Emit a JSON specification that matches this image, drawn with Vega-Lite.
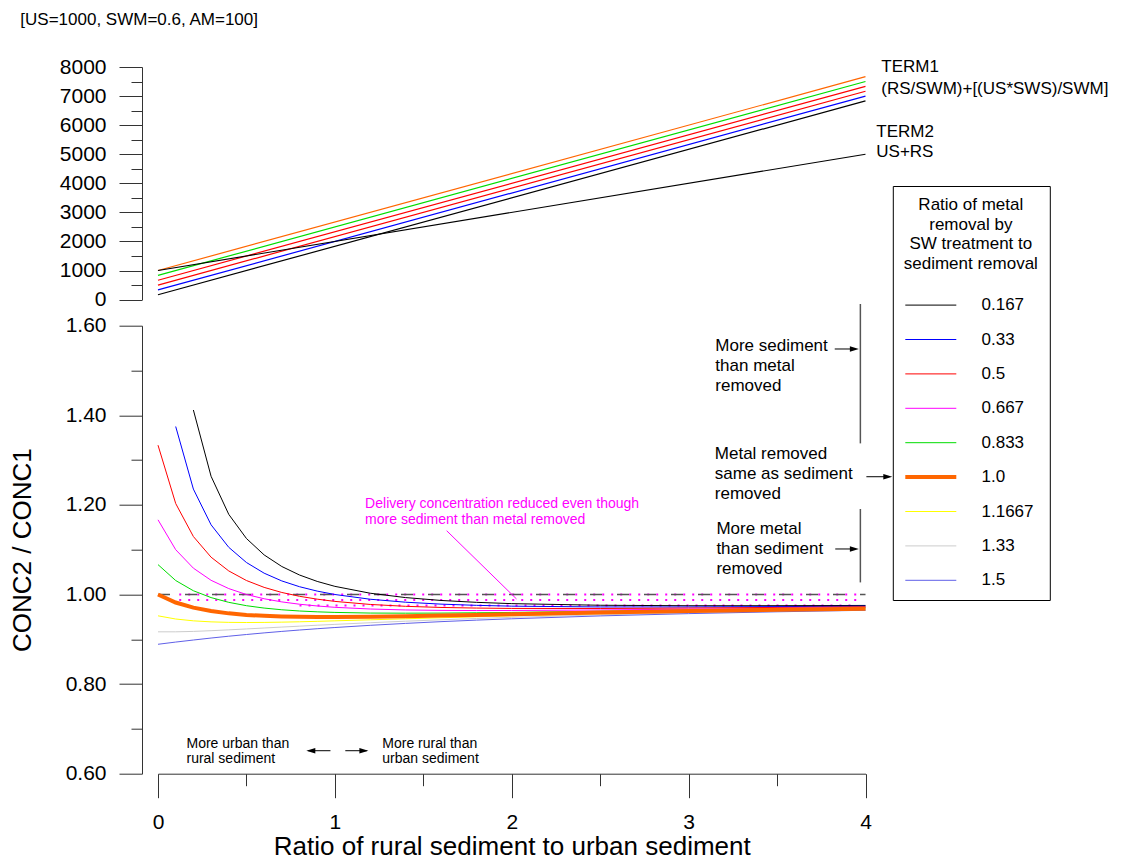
{
  "$schema": "https://vega.github.io/schema/vega-lite/v6.json",
  "background": "white",
  "padding": {"left": 9, "top": 11, "right": 5, "bottom": 0},
  "bounds": "flush",
  "spacing": 25.7,
  "config": {
    "font": "Liberation Sans",
    "view": {"stroke": null},
    "axis": {"grid": false, "domainColor": "#333333", "tickColor": "#333333", "labelColor": "#000000", "titleColor": "#000000", "labelFontSize": 21, "labelFont": "Liberation Sans", "titleFont": "Liberation Sans", "titleFontWeight": "normal", "titleFontSize": 26, "labelOverlap": false, "labelFlush": false, "domainWidth": 1, "tickWidth": 1},
    "legend": {"padding": 11, "strokeColor": "#000000", "fillColor": "#ffffff", "symbolType": "stroke", "symbolSize": 2601, "symbolStrokeWidth": 1, "symbolOffset": -4, "rowPadding": 0.4, "labelOffset": 24.7, "labelFontSize": 17, "labelFont": "Liberation Sans", "labelColor": "#000000", "titleFont": "Liberation Sans", "titleFontSize": 17, "titleFontWeight": "normal", "titleColor": "#000000", "titleAlign": "center", "titleAnchor": "middle", "titleLineHeight": 19.7, "titlePadding": 6, "titleLimit": 300, "labelLimit": 200}
  },
  "datasets": {
    "term1": [
      {"r": "0.167", "x": 0, "v": 166.7}, {"r": "0.167", "x": 4, "v": 6833.3},
      {"r": "0.33", "x": 0, "v": 333.3}, {"r": "0.33", "x": 4, "v": 7000},
      {"r": "0.5", "x": 0, "v": 500}, {"r": "0.5", "x": 4, "v": 7166.7},
      {"r": "0.667", "x": 0, "v": 666.7}, {"r": "0.667", "x": 4, "v": 7333.3},
      {"r": "0.833", "x": 0, "v": 833.3}, {"r": "0.833", "x": 4, "v": 7500},
      {"r": "1.0", "x": 0, "v": 1000}, {"r": "1.0", "x": 4, "v": 7666.7}
    ],
    "term2": [{"x": 0, "v": 1000}, {"x": 4, "v": 5000}],
    "topText": [
      {"x": -0.7785, "v": 9606, "t": "[US=1000, SWM=0.6, AM=100]"},
      {"x": 4.089, "v": 8010, "t": "TERM1"},
      {"x": 4.089, "v": 7257, "t": "(RS/SWM)+[(US*SWS)/SWM]"},
      {"x": 4.061, "v": 5765, "t": "TERM2"},
      {"x": 4.061, "v": 5077, "t": "US+RS"}
    ],
    "curves": [
      {"r": "0.167", "x": 0.2, "v": 1.4118}, {"r": "0.167", "x": 0.3, "v": 1.2639}, {"r": "0.167", "x": 0.4, "v": 1.1789}, {"r": "0.167", "x": 0.5, "v": 1.125}, {"r": "0.167", "x": 0.6, "v": 1.0884}, {"r": "0.167", "x": 0.7, "v": 1.0625}, {"r": "0.167", "x": 0.8, "v": 1.0435}, {"r": "0.167", "x": 0.9, "v": 1.0292}, {"r": "0.167", "x": 1.0, "v": 1.0182}, {"r": "0.167", "x": 1.2, "v": 1.0028}, {"r": "0.167", "x": 1.4, "v": 0.9931}, {"r": "0.167", "x": 1.6, "v": 0.9867}, {"r": "0.167", "x": 1.8, "v": 0.9825}, {"r": "0.167", "x": 2.0, "v": 0.9796}, {"r": "0.167", "x": 2.5, "v": 0.976}, {"r": "0.167", "x": 3.0, "v": 0.9749}, {"r": "0.167", "x": 3.5, "v": 0.975}, {"r": "0.167", "x": 4.0, "v": 0.9756},
      {"r": "0.33", "x": 0.1, "v": 1.375}, {"r": "0.33", "x": 0.2, "v": 1.2353}, {"r": "0.33", "x": 0.3, "v": 1.1556}, {"r": "0.33", "x": 0.4, "v": 1.1053}, {"r": "0.33", "x": 0.5, "v": 1.0714}, {"r": "0.33", "x": 0.6, "v": 1.0476}, {"r": "0.33", "x": 0.7, "v": 1.0303}, {"r": "0.33", "x": 0.8, "v": 1.0174}, {"r": "0.33", "x": 0.9, "v": 1.0076}, {"r": "0.33", "x": 1.0, "v": 1.0}, {"r": "0.33", "x": 1.2, "v": 0.9894}, {"r": "0.33", "x": 1.4, "v": 0.9828}, {"r": "0.33", "x": 1.6, "v": 0.9785}, {"r": "0.33", "x": 1.8, "v": 0.9758}, {"r": "0.33", "x": 2.0, "v": 0.974}, {"r": "0.33", "x": 2.5, "v": 0.9722}, {"r": "0.33", "x": 3.0, "v": 0.9722}, {"r": "0.33", "x": 3.5, "v": 0.973}, {"r": "0.33", "x": 4.0, "v": 0.974},
      {"r": "0.5", "x": 0, "v": 1.3333}, {"r": "0.5", "x": 0.1, "v": 1.2031}, {"r": "0.5", "x": 0.2, "v": 1.1294}, {"r": "0.5", "x": 0.3, "v": 1.0833}, {"r": "0.5", "x": 0.4, "v": 1.0526}, {"r": "0.5", "x": 0.5, "v": 1.0312}, {"r": "0.5", "x": 0.6, "v": 1.0159}, {"r": "0.5", "x": 0.7, "v": 1.0045}, {"r": "0.5", "x": 0.8, "v": 0.996}, {"r": "0.5", "x": 0.9, "v": 0.9896}, {"r": "0.5", "x": 1.0, "v": 0.9846}, {"r": "0.5", "x": 1.2, "v": 0.9778}, {"r": "0.5", "x": 1.4, "v": 0.9736}, {"r": "0.5", "x": 1.6, "v": 0.9711}, {"r": "0.5", "x": 1.8, "v": 0.9697}, {"r": "0.5", "x": 2.0, "v": 0.9689}, {"r": "0.5", "x": 2.5, "v": 0.9688}, {"r": "0.5", "x": 3.0, "v": 0.9697}, {"r": "0.5", "x": 3.5, "v": 0.9711}, {"r": "0.5", "x": 4.0, "v": 0.9725},
      {"r": "0.667", "x": 0, "v": 1.1667}, {"r": "0.667", "x": 0.1, "v": 1.1}, {"r": "0.667", "x": 0.2, "v": 1.0588}, {"r": "0.667", "x": 0.3, "v": 1.0317}, {"r": "0.667", "x": 0.4, "v": 1.0132}, {"r": "0.667", "x": 0.5, "v": 1.0}, {"r": "0.667", "x": 0.6, "v": 0.9905}, {"r": "0.667", "x": 0.7, "v": 0.9835}, {"r": "0.667", "x": 0.8, "v": 0.9783}, {"r": "0.667", "x": 0.9, "v": 0.9744}, {"r": "0.667", "x": 1.0, "v": 0.9714}, {"r": "0.667", "x": 1.2, "v": 0.9676}, {"r": "0.667", "x": 1.4, "v": 0.9655}, {"r": "0.667", "x": 1.6, "v": 0.9645}, {"r": "0.667", "x": 1.8, "v": 0.9642}, {"r": "0.667", "x": 2.0, "v": 0.9643}, {"r": "0.667", "x": 2.5, "v": 0.9655}, {"r": "0.667", "x": 3.0, "v": 0.9673}, {"r": "0.667", "x": 3.5, "v": 0.9692}, {"r": "0.667", "x": 4.0, "v": 0.9711},
      {"r": "0.833", "x": 0, "v": 1.0667}, {"r": "0.833", "x": 0.1, "v": 1.0312}, {"r": "0.833", "x": 0.2, "v": 1.0084}, {"r": "0.833", "x": 0.3, "v": 0.9931}, {"r": "0.833", "x": 0.4, "v": 0.9825}, {"r": "0.833", "x": 0.5, "v": 0.975}, {"r": "0.833", "x": 0.6, "v": 0.9697}, {"r": "0.833", "x": 0.7, "v": 0.9659}, {"r": "0.833", "x": 0.8, "v": 0.9632}, {"r": "0.833", "x": 0.9, "v": 0.9613}, {"r": "0.833", "x": 1.0, "v": 0.96}, {"r": "0.833", "x": 1.2, "v": 0.9586}, {"r": "0.833", "x": 1.4, "v": 0.9583}, {"r": "0.833", "x": 1.6, "v": 0.9585}, {"r": "0.833", "x": 1.8, "v": 0.9592}, {"r": "0.833", "x": 2.0, "v": 0.96}, {"r": "0.833", "x": 2.5, "v": 0.9625}, {"r": "0.833", "x": 3.0, "v": 0.9651}, {"r": "0.833", "x": 3.5, "v": 0.9675}, {"r": "0.833", "x": 4.0, "v": 0.9697},
      {"r": "1.1667", "x": 0, "v": 0.9524}, {"r": "1.1667", "x": 0.1, "v": 0.9453}, {"r": "1.1667", "x": 0.2, "v": 0.9412}, {"r": "1.1667", "x": 0.3, "v": 0.9389}, {"r": "1.1667", "x": 0.4, "v": 0.9378}, {"r": "1.1667", "x": 0.5, "v": 0.9375}, {"r": "1.1667", "x": 0.6, "v": 0.9377}, {"r": "1.1667", "x": 0.7, "v": 0.9383}, {"r": "1.1667", "x": 0.8, "v": 0.9391}, {"r": "1.1667", "x": 0.9, "v": 0.9401}, {"r": "1.1667", "x": 1.0, "v": 0.9412}, {"r": "1.1667", "x": 1.2, "v": 0.9435}, {"r": "1.1667", "x": 1.4, "v": 0.9458}, {"r": "1.1667", "x": 1.6, "v": 0.9481}, {"r": "1.1667", "x": 1.8, "v": 0.9503}, {"r": "1.1667", "x": 2.0, "v": 0.9524}, {"r": "1.1667", "x": 2.5, "v": 0.957}, {"r": "1.1667", "x": 3.0, "v": 0.961}, {"r": "1.1667", "x": 3.5, "v": 0.9643}, {"r": "1.1667", "x": 4.0, "v": 0.9671},
      {"r": "1.33", "x": 0, "v": 0.9167}, {"r": "1.33", "x": 0.1, "v": 0.9167}, {"r": "1.33", "x": 0.2, "v": 0.9176}, {"r": "1.33", "x": 0.3, "v": 0.9192}, {"r": "1.33", "x": 0.4, "v": 0.9211}, {"r": "1.33", "x": 0.5, "v": 0.9231}, {"r": "1.33", "x": 0.6, "v": 0.9252}, {"r": "1.33", "x": 0.7, "v": 0.9273}, {"r": "1.33", "x": 0.8, "v": 0.9293}, {"r": "1.33", "x": 0.9, "v": 0.9314}, {"r": "1.33", "x": 1.0, "v": 0.9333}, {"r": "1.33", "x": 1.2, "v": 0.937}, {"r": "1.33", "x": 1.4, "v": 0.9404}, {"r": "1.33", "x": 1.6, "v": 0.9435}, {"r": "1.33", "x": 1.8, "v": 0.9464}, {"r": "1.33", "x": 2.0, "v": 0.949}, {"r": "1.33", "x": 2.5, "v": 0.9545}, {"r": "1.33", "x": 3.0, "v": 0.9591}, {"r": "1.33", "x": 3.5, "v": 0.9628}, {"r": "1.33", "x": 4.0, "v": 0.9659},
      {"r": "1.5", "x": 0, "v": 0.8889}, {"r": "1.5", "x": 0.1, "v": 0.8938}, {"r": "1.5", "x": 0.2, "v": 0.8984}, {"r": "1.5", "x": 0.3, "v": 0.9028}, {"r": "1.5", "x": 0.4, "v": 0.9069}, {"r": "1.5", "x": 0.5, "v": 0.9107}, {"r": "1.5", "x": 0.6, "v": 0.9143}, {"r": "1.5", "x": 0.7, "v": 0.9176}, {"r": "1.5", "x": 0.8, "v": 0.9207}, {"r": "1.5", "x": 0.9, "v": 0.9236}, {"r": "1.5", "x": 1.0, "v": 0.9263}, {"r": "1.5", "x": 1.2, "v": 0.9312}, {"r": "1.5", "x": 1.4, "v": 0.9355}, {"r": "1.5", "x": 1.6, "v": 0.9394}, {"r": "1.5", "x": 1.8, "v": 0.9428}, {"r": "1.5", "x": 2.0, "v": 0.9458}, {"r": "1.5", "x": 2.5, "v": 0.9522}, {"r": "1.5", "x": 3.0, "v": 0.9573}, {"r": "1.5", "x": 3.5, "v": 0.9614}, {"r": "1.5", "x": 4.0, "v": 0.9648},
      {"r": "1.0", "x": 0, "v": 1.0}, {"r": "1.0", "x": 0.1, "v": 0.9821}, {"r": "1.0", "x": 0.2, "v": 0.9706}, {"r": "1.0", "x": 0.3, "v": 0.963}, {"r": "1.0", "x": 0.4, "v": 0.9579}, {"r": "1.0", "x": 0.5, "v": 0.9545}, {"r": "1.0", "x": 0.6, "v": 0.9524}, {"r": "1.0", "x": 0.7, "v": 0.951}, {"r": "1.0", "x": 0.8, "v": 0.9503}, {"r": "1.0", "x": 0.9, "v": 0.95}, {"r": "1.0", "x": 1.0, "v": 0.95}, {"r": "1.0", "x": 1.2, "v": 0.9506}, {"r": "1.0", "x": 1.4, "v": 0.9517}, {"r": "1.0", "x": 1.6, "v": 0.9531}, {"r": "1.0", "x": 1.8, "v": 0.9545}, {"r": "1.0", "x": 2.0, "v": 0.956}, {"r": "1.0", "x": 2.5, "v": 0.9597}, {"r": "1.0", "x": 3.0, "v": 0.963}, {"r": "1.0", "x": 3.5, "v": 0.9659}, {"r": "1.0", "x": 4.0, "v": 0.9684}
    ],
    "unity": [{"x": 0, "v": 1.0}, {"x": 4, "v": 1.0}],
    "dots": [
      {"k": "a", "x": 0.12, "v": 1.0}, {"k": "a", "x": 3.95, "v": 1.0},
      {"k": "b", "x": 0.12, "v": 0.988}, {"k": "b", "x": 3.95, "v": 0.988},
      {"k": "c", "x": 0.8, "v": 0.9754}, {"k": "c", "x": 3.95, "v": 0.9754}
    ],
    "pointer": [{"x": 1.632, "v": 1.1424}, {"x": 2.027, "v": 0.99}],
    "brackets": [
      {"x": 3.971, "v": 1.6484, "v2": 1.3373},
      {"x": 3.971, "v": 1.1909, "v2": 1.027}
    ],
    "shafts": [
      {"x": 3.826, "x2": 3.94, "v": 1.548},
      {"x": 4.005, "x2": 4.13, "v": 1.2629},
      {"x": 3.829, "x2": 3.94, "v": 1.1016},
      {"x": 0.85, "x2": 0.975, "v": 0.6513},
      {"x": 1.059, "x2": 1.18, "v": 0.6513}
    ],
    "heads": [
      {"x": 3.937, "v": 1.548, "d": "right"},
      {"x": 4.126, "v": 1.2629, "d": "right"},
      {"x": 3.937, "v": 1.1016, "d": "right"},
      {"x": 0.864, "v": 0.6513, "d": "left"},
      {"x": 1.164, "v": 0.6513, "d": "right"}
    ],
    "notes17": [
      {"x": 3.151, "v": 1.5554, "t": "More sediment"},
      {"x": 3.151, "v": 1.5107, "t": "than metal"},
      {"x": 3.151, "v": 1.4661, "t": "removed"},
      {"x": 3.148, "v": 1.3136, "t": "Metal removed"},
      {"x": 3.148, "v": 1.269, "t": "same as sediment"},
      {"x": 3.148, "v": 1.2243, "t": "removed"},
      {"x": 3.157, "v": 1.1462, "t": "More metal"},
      {"x": 3.157, "v": 1.1016, "t": "than sediment"},
      {"x": 3.157, "v": 1.0569, "t": "removed"}
    ],
    "notes14": [
      {"x": 0.161, "v": 0.667, "t": "More urban than"},
      {"x": 0.161, "v": 0.6335, "t": "rural sediment"},
      {"x": 1.268, "v": 0.667, "t": "More rural than"},
      {"x": 1.268, "v": 0.6335, "t": "urban sediment"}
    ],
    "notesM": [
      {"x": 1.171, "v": 1.2027, "t": "Delivery concentration reduced even though"},
      {"x": 1.171, "v": 1.167, "t": "more sediment than metal removed"}
    ]
  },
  "vconcat": [
    {
      "width": 707.5,
      "height": 232.6,
      "resolve": {"axis": {"y": "independent"}},
      "encoding": {
        "x": {"field": "x", "type": "quantitative", "scale": {"domain": [0, 4], "nice": false, "zero": false}, "axis": null},
        "y": {"field": "v", "type": "quantitative", "scale": {"domain": [0, 8000], "nice": false, "zero": false}, "axis": null}
      },
      "layer": [
        {
          "data": {"name": "term1"},
          "transform": [{"filter": "datum.r !== '0.667'"}],
          "mark": {"type": "line", "strokeWidth": 1.2},
          "encoding": {
            "y": {"field": "v", "type": "quantitative", "scale": {"domain": [0, 8000], "nice": false, "zero": false},
              "axis": {"title": null, "orient": "left", "values": [0, 1000, 2000, 3000, 4000, 5000, 6000, 7000, 8000], "format": "d", "offset": 16, "tickSize": 23, "labelPadding": 13}},
            "color": {"field": "r", "type": "nominal",
              "scale": {"domain": ["0.167", "0.33", "0.5", "0.667", "0.833", "1.0", "1.1667", "1.33", "1.5"], "range": ["#000000", "#0000ff", "#ff0000", "#ff00ff", "#00dd00", "#ff6600", "#ffff00", "#cccccc", "#6060e8"]},
              "title": ["Ratio of metal", "removal by", "SW treatment to", "sediment removal"],
              "legend": {"orient": "none", "legendX": 734.8, "legendY": 119, "encode": {"symbols": {"update": {"size": {"value": 2601}, "strokeWidth": {"signal": "(datum.value === '1.0' ? 4 : 1)"}}}}}
            }
          }
        },
        {
          "data": {"name": "term1"},
          "transform": [{"filter": "datum.r === '0.667'"}],
          "mark": {"type": "line", "strokeWidth": 1.2, "color": "#ff0000"},
          "encoding": {}
        },
        {
          "data": {"name": "term2"},
          "mark": {"type": "line", "strokeWidth": 1.2, "color": "#000000"},
          "encoding": {
            "y": {"field": "v", "type": "quantitative", "scale": {"domain": [0, 8000], "nice": false, "zero": false},
              "axis": {"title": null, "orient": "left", "values": [500, 1500, 2500, 3500, 4500, 5500, 6500, 7500], "labels": false, "domain": false, "offset": 16, "tickSize": 11}}
          }
        },
        {
          "data": {"name": "topText"},
          "mark": {"type": "text", "align": "left", "baseline": "middle", "fontSize": 17, "color": "#000000"},
          "encoding": {"text": {"field": "t"}}
        }
      ]
    },
    {
      "width": 707.5,
      "height": 448,
      "resolve": {"axis": {"x": "independent", "y": "independent"}},
      "encoding": {
        "x": {"field": "x", "type": "quantitative", "scale": {"domain": [0, 4], "nice": false, "zero": false}, "axis": null},
        "y": {"field": "v", "type": "quantitative", "scale": {"domain": [0.6, 1.6], "nice": false, "zero": false}, "axis": null}
      },
      "layer": [
        {
          "data": {"name": "dots"},
          "mark": {"type": "line", "color": "#ff00ff", "strokeWidth": 2, "strokeDash": [2, 7]},
          "encoding": {"detail": {"field": "k"}}
        },
        {
          "data": {"name": "unity"},
          "mark": {"type": "line", "color": "#555555", "strokeWidth": 1.5, "strokeDash": [12, 15]},
          "encoding": {
            "x": {"field": "x", "type": "quantitative", "scale": {"domain": [0, 4], "nice": false, "zero": false},
              "axis": {"title": null, "orient": "bottom", "values": [0.5, 1.5, 2.5, 3.5], "labels": false, "domain": false, "tickSize": 12}},
            "y": {"field": "v", "type": "quantitative", "scale": {"domain": [0.6, 1.6], "nice": false, "zero": false},
              "axis": {"title": null, "orient": "left", "values": [0.7, 0.9, 1.1, 1.3, 1.5], "labels": false, "domain": false, "offset": 16, "tickSize": 11}}
          }
        },
        {
          "data": {"name": "curves"},
          "mark": {"type": "line"},
          "encoding": {
            "x": {"field": "x", "type": "quantitative", "scale": {"domain": [0, 4], "nice": false, "zero": false},
              "axis": {"title": "Ratio of rural sediment to urban sediment", "orient": "bottom", "values": [0, 1, 2, 3, 4], "format": "d", "tickSize": 24, "labelPadding": 14, "titlePadding": 1}},
            "y": {"field": "v", "type": "quantitative", "scale": {"domain": [0.6, 1.6], "nice": false, "zero": false},
              "axis": {"title": "CONC2 / CONC1", "orient": "left", "values": [0.6, 0.8, 1.0, 1.2, 1.4, 1.6], "format": ".2f", "offset": 16, "tickSize": 23, "labelPadding": 13, "titlePadding": 30}},
            "color": {"field": "r", "type": "nominal",
              "scale": {"domain": ["0.167", "0.33", "0.5", "0.667", "0.833", "1.0", "1.1667", "1.33", "1.5"], "range": ["#000000", "#0000ff", "#ff0000", "#ff00ff", "#00dd00", "#ff6600", "#ffff00", "#cccccc", "#6060e8"]},
              "title": ["Ratio of metal", "removal by", "SW treatment to", "sediment removal"],
              "legend": {"orient": "none", "legendX": 734.8, "legendY": 119, "encode": {"symbols": {"update": {"size": {"value": 2601}, "strokeWidth": {"signal": "(datum.value === '1.0' ? 4 : 1)"}}}}}
            },
            "strokeWidth": {"condition": {"test": "datum.r === '1.0'", "value": 4}, "value": 1}
          }
        },
        {
          "data": {"name": "pointer"},
          "mark": {"type": "line", "color": "#ff00ff", "strokeWidth": 1},
          "encoding": {}
        },
        {
          "data": {"name": "brackets"},
          "mark": {"type": "rule", "color": "#555555", "strokeWidth": 1.5},
          "encoding": {"y2": {"field": "v2"}}
        },
        {
          "data": {"name": "shafts"},
          "mark": {"type": "rule", "color": "#000000", "strokeWidth": 1},
          "encoding": {"x2": {"field": "x2"}}
        },
        {
          "data": {"name": "heads"},
          "mark": {"type": "point", "filled": true, "color": "#000000", "opacity": 1, "size": 81},
          "encoding": {"shape": {"condition": {"test": "datum.d === 'left'", "value": "M1,-0.6L-1,0L1,0.6Z"}, "value": "M-1,-0.6L1,0L-1,0.6Z"}}
        },
        {
          "data": {"name": "notes17"},
          "mark": {"type": "text", "align": "left", "baseline": "middle", "fontSize": 17, "color": "#000000"},
          "encoding": {"text": {"field": "t"}}
        },
        {
          "data": {"name": "notes14"},
          "mark": {"type": "text", "align": "left", "baseline": "middle", "fontSize": 14, "color": "#000000"},
          "encoding": {"text": {"field": "t"}}
        },
        {
          "data": {"name": "notesM"},
          "mark": {"type": "text", "align": "left", "baseline": "middle", "fontSize": 14, "color": "#ff00ff"},
          "encoding": {"text": {"field": "t"}}
        }
      ]
    }
  ]
}
